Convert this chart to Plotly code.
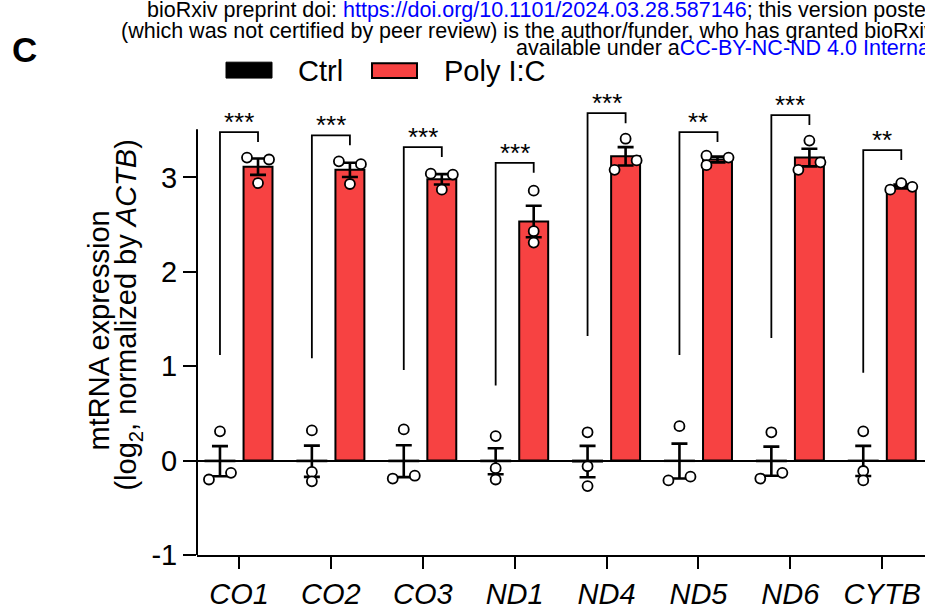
import numpy as np
import plotly.graph_objects as go

# ---------------- data ----------------
genes = ["CO1", "CO2", "CO3", "ND1", "ND4", "ND5", "ND6", "CYTB"]
ctrl_points = [
    [0.31, -0.20, -0.13],
    [0.32, -0.12, -0.22],
    [0.33, -0.19, -0.16],
    [0.26, -0.08, -0.20],
    [0.30, -0.06, -0.27],
    [0.365, -0.21, -0.17],
    [0.30, -0.19, -0.13],
    [0.31, -0.11, -0.21],
]
poly_points = [
    [3.21, 3.19, 2.94],
    [3.17, 3.14, 2.93],
    [3.04, 3.03, 2.87],
    [2.86, 2.43, 2.31],
    [3.41, 3.08, 3.18],
    [3.23, 3.13, 3.21],
    [3.39, 3.08, 3.16],
    [2.87, 2.94, 2.90],
]
# horizontal spread rank of each dot inside its bar (-1 left, 0 centre, 1 right)
ctrl_spread = [[0, -1, 1], [0, 0, 0], [0, -1, 1], [0, 0, 0],
               [0, 0, 0], [0, -1, 1], [0, -1, 1], [0, 0, 0]]
poly_spread = [[-1, 1, 0], [-1, 1, 0], [-1, 1, 0], [0, 0, 0],
               [0, -1, 1], [-1, -1, 1], [0, -1, 1], [-1, 0, 1]]
sig_labels = ["***", "***", "***", "***", "***", "**", "***", "**"]
bracket_tops = [3.48, 3.445, 3.32, 3.155, 3.68, 3.48, 3.66, 3.29]
y_ticks = [-1, 0, 1, 2, 3]
y_tick_labels = ["-1", "0", "1", "2", "3"]
group_names = ["Ctrl", "Poly I:C"]

# ---------------- style ----------------
FONT = "Liberation Sans, Arial, Helvetica, sans-serif"
RED = "#F74242"
OFF = 0.207      # half distance between paired bars (category units)
BW = 0.315       # bar width
JIT = 0.12       # dot spread step
LEFT_LEG = 2.36  # length of bracket leg over control bar
RIGHT_LEG = 0.105
W, H = 925, 610
ML, MR, MT, MB = 197, 0, 90, 52


def PX(x):
    return (x - ML) / (W - ML - MR)


def PY(y):
    return (H - MB - y) / (H - MT - MB)


xc = np.arange(len(genes))
ctrl_arr = np.array(ctrl_points)
poly_arr = np.array(poly_points)
ctrl_mean = ctrl_arr.mean(axis=1)
poly_mean = poly_arr.mean(axis=1)
ctrl_sem = ctrl_arr.std(axis=1, ddof=1) / np.sqrt(ctrl_arr.shape[1])
poly_sem = poly_arr.std(axis=1, ddof=1) / np.sqrt(poly_arr.shape[1])

fig = go.Figure()

err_style = dict(type="data", symmetric=True, color="black", thickness=2.6, width=8)

fig.add_trace(go.Bar(
    x=xc - OFF, y=ctrl_mean, width=BW, name=group_names[0],
    marker=dict(color="black", line=dict(color="black", width=2)),
    error_y=dict(array=ctrl_sem, **err_style), showlegend=False))
fig.add_trace(go.Bar(
    x=xc + OFF, y=poly_mean, width=BW, name=group_names[1],
    marker=dict(color=RED, line=dict(color="black", width=2)),
    error_y=dict(array=poly_sem, **err_style), showlegend=False))

# individual dots
for arr, spread, sign in ((ctrl_arr, ctrl_spread, -1), (poly_arr, poly_spread, 1)):
    xs, ys = [], []
    for i in range(len(genes)):
        for v, s in zip(arr[i], spread[i]):
            xs.append(xc[i] + sign * OFF + s * JIT)
            ys.append(v)
    fig.add_trace(go.Scatter(
        x=xs, y=ys, mode="markers", showlegend=False, cliponaxis=False,
        marker=dict(symbol="circle", size=10, color="white",
                    line=dict(color="black", width=1.8))))

# significance brackets
bx, by = [], []
for i, top in enumerate(bracket_tops):
    bx += [xc[i] - OFF, xc[i] - OFF, xc[i] + OFF, xc[i] + OFF, None]
    by += [top - LEFT_LEG, top, top, top - RIGHT_LEG, None]
fig.add_trace(go.Scatter(x=bx, y=by, mode="lines", showlegend=False,
                         line=dict(color="black", width=1.8), cliponaxis=False))

annotations = []
for i, (lab, top) in enumerate(zip(sig_labels, bracket_tops)):
    annotations.append(dict(x=xc[i], y=top, xref="x", yref="y", text=lab,
                            showarrow=False, yanchor="bottom", yshift=-7,
                            font=dict(family=FONT, size=26, color="black")))

# y axis title (two lines)
annotations.append(dict(x=PX(99), y=PY(332), xref="paper", yref="paper",
                        text="mtRNA expression", textangle=-90, showarrow=False,
                        xanchor="center", yanchor="middle",
                        font=dict(family=FONT, size=29, color="black")))
annotations.append(dict(x=PX(128), y=PY(317), xref="paper", yref="paper",
                        text="(log<sub>2</sub>, normalized by <i>ACTB</i>)", textangle=-90,
                        showarrow=False, xanchor="center", yanchor="middle",
                        font=dict(family=FONT, size=29, color="black")))

# legend
shapes = []
shapes.append(dict(type="rect", xref="paper", yref="paper",
                   x0=PX(226), x1=PX(272), y0=PY(78), y1=PY(62),
                   fillcolor="black", line=dict(color="black", width=1)))
shapes.append(dict(type="rect", xref="paper", yref="paper",
                   x0=PX(372), x1=PX(417), y0=PY(78), y1=PY(63),
                   fillcolor=RED, line=dict(color="black", width=2)))
annotations.append(dict(x=PX(296), y=PY(71), xref="paper", yref="paper",
                        text=group_names[0], showarrow=False, xanchor="left", yanchor="middle",
                        font=dict(family=FONT, size=29, color="black")))
annotations.append(dict(x=PX(442), y=PY(71), xref="paper", yref="paper",
                        text=group_names[1], showarrow=False, xanchor="left", yanchor="middle",
                        font=dict(family=FONT, size=29, color="black")))

# panel label
annotations.append(dict(x=PX(10), y=PY(49), xref="paper", yref="paper",
                        text="<b>C</b>", showarrow=False, xanchor="left", yanchor="middle",
                        font=dict(family=FONT, size=35, color="black")))

# bioRxiv header
BLUE = "#0000FF"
hdr = [
    (145, 9, "bioRxiv preprint doi: <span style='color:%s'>https://doi.org/10.1101/2024.03.28.587146</span>; this version posted" % BLUE),
    (119, 31, "(which was not certified by peer review) is the author/funder, who has granted bioRxiv a license"),
    (514, 48, "available under a<span style='color:%s'>CC-BY-NC-ND 4.0 International license</span>." % BLUE),
]
for x, y, t in hdr:
    annotations.append(dict(x=PX(x), y=PY(y), xref="paper", yref="paper", text=t,
                            showarrow=False, xanchor="left", yanchor="middle",
                            font=dict(family=FONT, size=21.5, color="black")))

# y axis line (stops short of the plot top)
shapes.append(dict(type="line", xref="paper", yref="y", x0=0, x1=0, y0=-1, y1=3.51,
                   line=dict(color="black", width=2)))

fig.update_layout(
    width=W, height=H, margin=dict(l=ML, r=MR, t=MT, b=MB, pad=0),
    paper_bgcolor="white", plot_bgcolor="white",
    barmode="overlay", showlegend=False,
    font=dict(family=FONT, color="black"),
    annotations=annotations, shapes=shapes,
    xaxis=dict(range=[-0.457, 7.465], tickvals=xc,
               ticktext=["<i>%s</i>" % g for g in genes],
               ticks="outside", ticklen=12, tickwidth=2, tickcolor="black",
               showline=True, linewidth=2, linecolor="black",
               showgrid=False, zeroline=False,
               tickfont=dict(family=FONT, size=29, color="black")),
    yaxis=dict(range=[-1, 3.926], tickvals=y_ticks, ticktext=y_tick_labels,
               ticks="outside", ticklen=13, tickwidth=2, tickcolor="black",
               showline=False, showgrid=False,
               zeroline=True, zerolinecolor="black", zerolinewidth=2,
               tickfont=dict(family=FONT, size=29, color="black")),
)

fig.write_html("out.html")
